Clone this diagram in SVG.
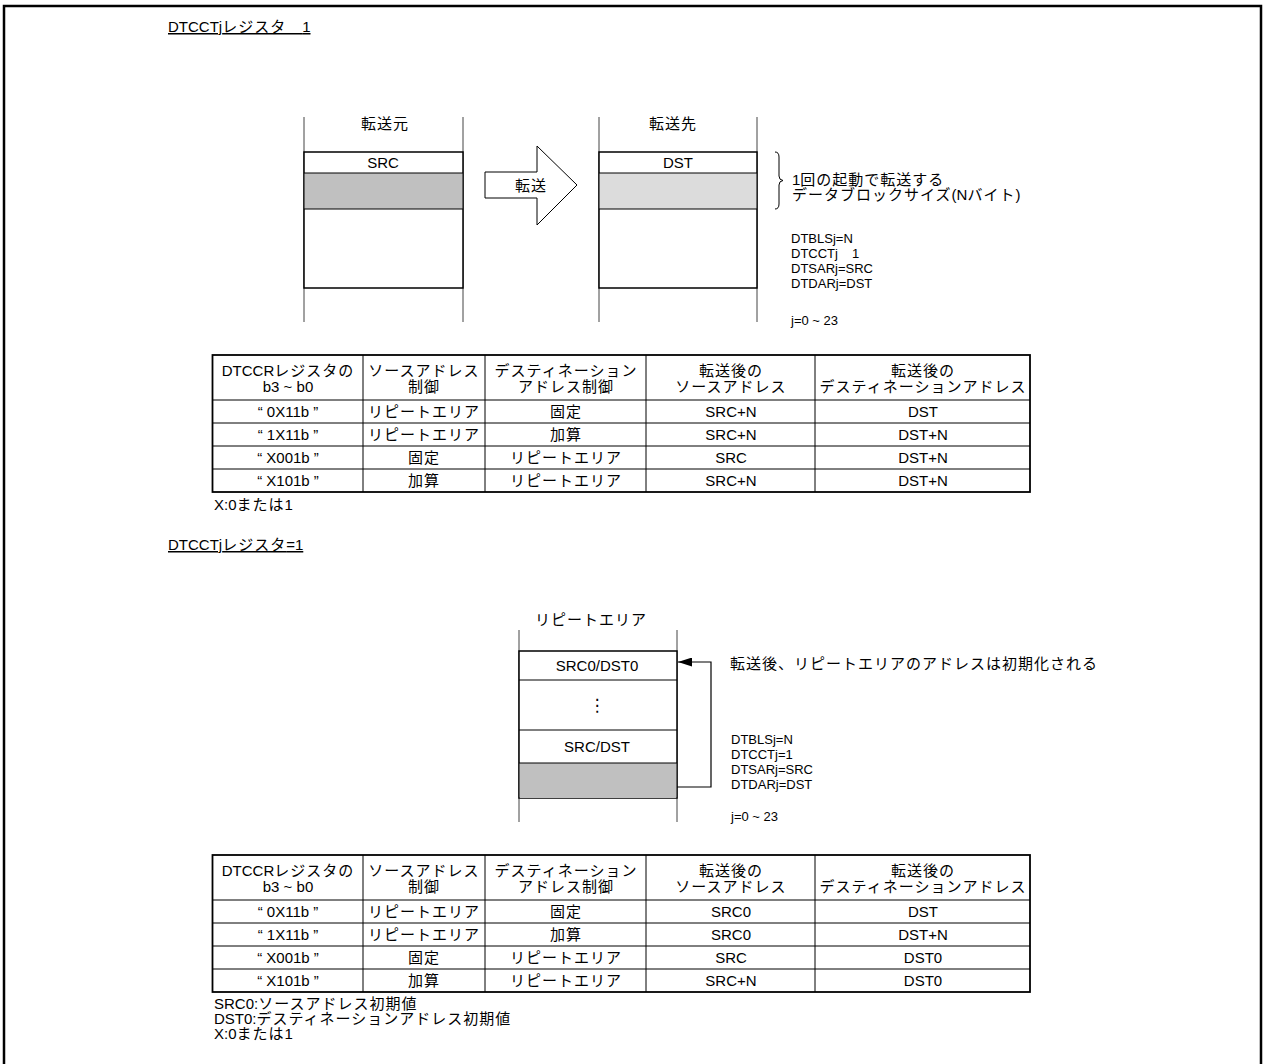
<svg xmlns="http://www.w3.org/2000/svg" width="1265" height="1064" viewBox="0 0 1265 1064">
<style>
text{font-family:"Liberation Sans","Noto Sans CJK JP",sans-serif;font-size:15px;fill:#000}
.m{text-anchor:middle}
.j{letter-spacing:1px}
.s{font-size:13px}
.ul{text-decoration:underline}
.guide{stroke:#444;stroke-width:1;fill:none}
.box{stroke:#000;stroke-width:1.5;fill:#fff}
.cell{stroke:#000;stroke-width:1;fill:none}
.frame{stroke:#000;stroke-width:1.8;fill:none}
.g1{fill:#c0c0c0}
.g2{fill:#dcdcdc}
</style>
<defs>
<marker id="ah" markerUnits="userSpaceOnUse" markerWidth="15" markerHeight="9" refX="14" refY="4.5" orient="auto">
<path d="M0,0 L14,4.5 L0,9 z" fill="#000"/>
</marker>
</defs>
<rect width="1265" height="1064" fill="#fff"/>
<path d="M4,1064 V6 H1261 V1064" fill="none" stroke="#000" stroke-width="2.5"/>

<g id="title1"><text x="168" y="32" class="ul">DTCCTj<tspan class="j">レジスタ　</tspan>1</text></g>

<g id="src-area">
<line x1="304" y1="117" x2="304" y2="322" class="guide"/>
<line x1="463" y1="117" x2="463" y2="322" class="guide"/>
<text x="385" y="129" class="m j">転送元</text>
<rect x="304" y="152" width="159" height="136" class="box"/>
<rect x="304.75" y="173" width="157.5" height="36" class="g1"/>
<line x1="304" y1="173" x2="463" y2="173" class="cell"/>
<line x1="304" y1="209" x2="463" y2="209" class="cell"/>
<text x="383" y="168" class="m">SRC</text>
</g>

<g id="transfer-arrow">
<polygon points="485,172 537,172 537,146 577,185 537,225 537,198 485,198" fill="#fff" stroke="#000" stroke-width="1"/>
<text x="531" y="191" class="m j">転送</text>
</g>

<g id="dst-area">
<line x1="599" y1="117" x2="599" y2="322" class="guide"/>
<line x1="757" y1="117" x2="757" y2="322" class="guide"/>
<text x="673" y="129" class="m j">転送先</text>
<rect x="599" y="152" width="158" height="136" class="box"/>
<rect x="599.75" y="173" width="156.5" height="36" class="g2"/>
<line x1="599" y1="173" x2="757" y2="173" class="cell"/>
<line x1="599" y1="209" x2="757" y2="209" class="cell"/>
<text x="678" y="168" class="m">DST</text>
</g>

<g id="block-note">
<path d="M775,152 Q779,152 779,157 V176 Q779,180 783,180.5 Q779,181 779,185 V204 Q779,209 775,209" fill="none" stroke="#000" stroke-width="1"/>
<text x="792" y="185">1<tspan class="j">回の起動で転送する</tspan></text>
<text x="792" y="200"><tspan class="j">データブロックサイズ</tspan>(N<tspan class="j">バイト</tspan>)</text>
</g>

<g id="reg-note1">
<text x="791" y="243" class="s">DTBLSj=N</text>
<text x="791" y="258" class="s">DTCCTj<tspan dx="14">1</tspan></text>
<text x="791" y="273" class="s">DTSARj=SRC</text>
<text x="791" y="288" class="s">DTDARj=DST</text>
<text x="791" y="325" class="s">j=0 ~ 23</text>
</g>

<g id="table1">
<rect x="212.5" y="355" width="817.5" height="137" class="frame"/>
<g class="cell">
<line x1="212.5" y1="400" x2="1030" y2="400"/>
<line x1="212.5" y1="423" x2="1030" y2="423"/>
<line x1="212.5" y1="446" x2="1030" y2="446"/>
<line x1="212.5" y1="469" x2="1030" y2="469"/>
<line x1="363" y1="355" x2="363" y2="492"/>
<line x1="485" y1="355" x2="485" y2="492"/>
<line x1="646" y1="355" x2="646" y2="492"/>
<line x1="815" y1="355" x2="815" y2="492"/>
</g>
<text x="288" y="376" class="m">DTCCR<tspan class="j">レジスタの</tspan></text>
<text x="288" y="392" class="m">b3 ~ b0</text>
<text x="424" y="376" class="m j">ソースアドレス</text>
<text x="424" y="392" class="m j">制御</text>
<text x="566" y="376" class="m j">デスティネーション</text>
<text x="566" y="392" class="m j">アドレス制御</text>
<text x="731" y="376" class="m j">転送後の</text>
<text x="731" y="392" class="m j">ソースアドレス</text>
<text x="923" y="376" class="m j">転送後の</text>
<text x="923" y="392" class="m j">デスティネーションアドレス</text>
<text x="288" y="417" class="m">“ 0X11b ”</text>
<text x="424" y="417" class="m j">リピートエリア</text>
<text x="566" y="417" class="m j">固定</text>
<text x="731" y="417" class="m">SRC+N</text>
<text x="923" y="417" class="m">DST</text>
<text x="288" y="440" class="m">“ 1X11b ”</text>
<text x="424" y="440" class="m j">リピートエリア</text>
<text x="566" y="440" class="m j">加算</text>
<text x="731" y="440" class="m">SRC+N</text>
<text x="923" y="440" class="m">DST+N</text>
<text x="288" y="463" class="m">“ X001b ”</text>
<text x="424" y="463" class="m j">固定</text>
<text x="566" y="463" class="m j">リピートエリア</text>
<text x="731" y="463" class="m">SRC</text>
<text x="923" y="463" class="m">DST+N</text>
<text x="288" y="486" class="m">“ X101b ”</text>
<text x="424" y="486" class="m j">加算</text>
<text x="566" y="486" class="m j">リピートエリア</text>
<text x="731" y="486" class="m">SRC+N</text>
<text x="923" y="486" class="m">DST+N</text>
</g>
<g id="note1"><text x="214" y="510">X:0<tspan class="j">または</tspan>1</text></g>

<g id="title2"><text x="168" y="550" class="ul">DTCCTj<tspan class="j">レジスタ</tspan>=1</text></g>

<g id="repeat-area">
<text x="591" y="625" class="m j">リピートエリア</text>
<line x1="519" y1="630" x2="519" y2="822" class="guide"/>
<line x1="677" y1="630" x2="677" y2="822" class="guide"/>
<rect x="519" y="651" width="158" height="147" class="box"/>
<rect x="519.75" y="763" width="156.5" height="35" class="g1"/>
<line x1="519" y1="680" x2="677" y2="680" class="cell"/>
<line x1="519" y1="730" x2="677" y2="730" class="cell"/>
<line x1="519" y1="763" x2="677" y2="763" class="cell"/>
<text x="597" y="671" class="m">SRC0/DST0</text>
<text x="597" y="711" class="m" style="font-size:17px;font-family:'DejaVu Sans',sans-serif">⋮</text>
<text x="597" y="752" class="m">SRC/DST</text>
</g>

<g id="connectors">
<polyline points="677,787 711,787 711,662 678,662" fill="none" stroke="#000" stroke-width="1.2" marker-end="url(#ah)"/>
</g>

<g id="repeat-note">
<text x="730" y="669" class="j">転送後、リピートエリアのアドレスは初期化される</text>
<text x="731" y="744" class="s">DTBLSj=N</text>
<text x="731" y="759" class="s">DTCCTj=1</text>
<text x="731" y="774" class="s">DTSARj=SRC</text>
<text x="731" y="789" class="s">DTDARj=DST</text>
<text x="731" y="821" class="s">j=0 ~ 23</text>
</g>

<g id="table2">
<rect x="212.5" y="855" width="817.5" height="137" class="frame"/>
<g class="cell">
<line x1="212.5" y1="900" x2="1030" y2="900"/>
<line x1="212.5" y1="923" x2="1030" y2="923"/>
<line x1="212.5" y1="946" x2="1030" y2="946"/>
<line x1="212.5" y1="969" x2="1030" y2="969"/>
<line x1="363" y1="855" x2="363" y2="992"/>
<line x1="485" y1="855" x2="485" y2="992"/>
<line x1="646" y1="855" x2="646" y2="992"/>
<line x1="815" y1="855" x2="815" y2="992"/>
</g>
<text x="288" y="876" class="m">DTCCR<tspan class="j">レジスタの</tspan></text>
<text x="288" y="892" class="m">b3 ~ b0</text>
<text x="424" y="876" class="m j">ソースアドレス</text>
<text x="424" y="892" class="m j">制御</text>
<text x="566" y="876" class="m j">デスティネーション</text>
<text x="566" y="892" class="m j">アドレス制御</text>
<text x="731" y="876" class="m j">転送後の</text>
<text x="731" y="892" class="m j">ソースアドレス</text>
<text x="923" y="876" class="m j">転送後の</text>
<text x="923" y="892" class="m j">デスティネーションアドレス</text>
<text x="288" y="917" class="m">“ 0X11b ”</text>
<text x="424" y="917" class="m j">リピートエリア</text>
<text x="566" y="917" class="m j">固定</text>
<text x="731" y="917" class="m">SRC0</text>
<text x="923" y="917" class="m">DST</text>
<text x="288" y="940" class="m">“ 1X11b ”</text>
<text x="424" y="940" class="m j">リピートエリア</text>
<text x="566" y="940" class="m j">加算</text>
<text x="731" y="940" class="m">SRC0</text>
<text x="923" y="940" class="m">DST+N</text>
<text x="288" y="963" class="m">“ X001b ”</text>
<text x="424" y="963" class="m j">固定</text>
<text x="566" y="963" class="m j">リピートエリア</text>
<text x="731" y="963" class="m">SRC</text>
<text x="923" y="963" class="m">DST0</text>
<text x="288" y="986" class="m">“ X101b ”</text>
<text x="424" y="986" class="m j">加算</text>
<text x="566" y="986" class="m j">リピートエリア</text>
<text x="731" y="986" class="m">SRC+N</text>
<text x="923" y="986" class="m">DST0</text>
</g>

<g id="note2">
<text x="214" y="1009">SRC0:<tspan class="j">ソースアドレス初期値</tspan></text>
<text x="214" y="1024">DST0:<tspan class="j">デスティネーションアドレス初期値</tspan></text>
<text x="214" y="1039">X:0<tspan class="j">または</tspan>1</text>
</g>
</svg>
